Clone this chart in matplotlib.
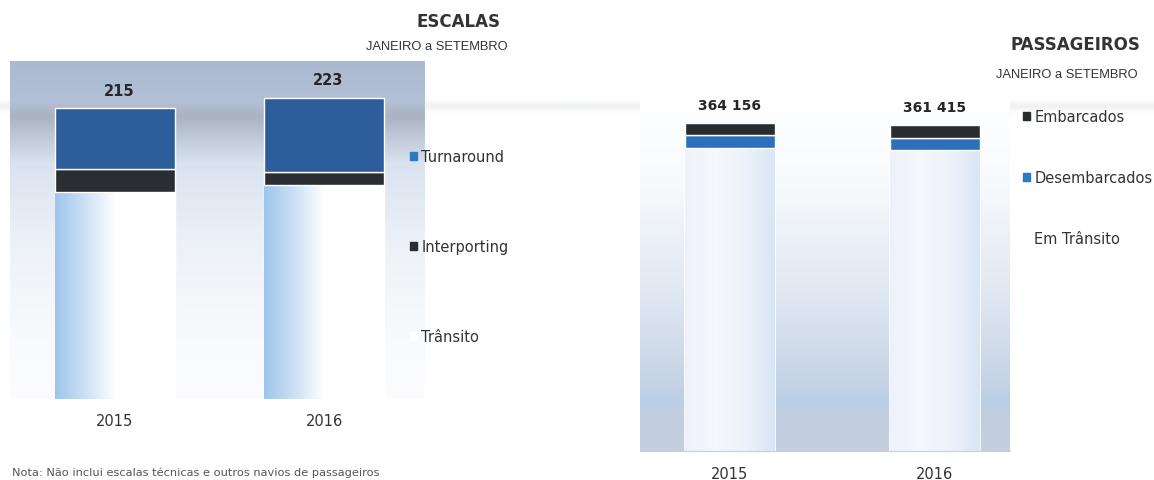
import numpy as np
import matplotlib.pyplot as plt
from matplotlib.colors import LinearSegmentedColormap

# dados - escalas (janeiro a setembro)
anos = ["2015", "2016"]
esc_transito = [153, 158]
esc_interporting = [17, 10]
esc_turnaround = [45, 55]
esc_total = [215, 223]

# dados - passageiros
pax_transito = [336400, 333650]
pax_desembarcados = [14400, 13300]
pax_embarcados = [13356, 14465]
pax_total = ["364 156", "361 415"]

fig = plt.figure(figsize=(11.54, 4.81), dpi=100)
W, H = 1154.0, 481.0


def px_axes(x0, y0, x1, y1):
    # caixa em pixeis (origem em cima) -> fraccoes da figura
    return fig.add_axes([x0 / W, 1 - y1 / H, (x1 - x0) / W, (y1 - y0) / H])


def fundo(ax, stops):
    cmap = LinearSegmentedColormap.from_list("f", stops)
    grad = np.linspace(0, 1, 256).reshape(-1, 1)
    ax.imshow(grad, cmap=cmap, aspect="auto", extent=[0, 1, 0, 1],
              transform=ax.transAxes, zorder=0, origin="upper")


def gradiente_barras(ax, patches, stops):
    cmap = LinearSegmentedColormap.from_list("g", stops)
    grad = np.linspace(0, 1, 256).reshape(1, -1)
    for p in patches:
        x, y = p.get_x(), p.get_y()
        w, h = p.get_width(), p.get_height()
        im = ax.imshow(grad, cmap=cmap, aspect="auto",
                       extent=[x, x + w, y, y + h], zorder=1.5)
        im.set_clip_path(p)


# faixa cinzenta do scan
band = fig.add_axes([0, 1 - 118 / H, 1, 22 / H])
band.axis("off")
band.imshow(np.array([[0.0], [1.0], [0.0]]), aspect="auto", extent=[0, 1, 0, 1],
            cmap=LinearSegmentedColormap.from_list("b", [(1, 1, 1, 0), (0.72, 0.74, 0.78, 0.45)]),
            transform=band.transAxes, interpolation="bicubic")

# ---------------- ESCALAS ----------------
ax1 = px_axes(10, 62, 425, 400)
x = np.arange(len(anos))
bw = 0.574
fundo(ax1, [(0.0, (0.67, 0.73, 0.82)), (0.12, (0.70, 0.75, 0.84)),
            (0.16, (0.67, 0.70, 0.76)), (0.30, (0.85, 0.89, 0.94)),
            (0.55, (0.93, 0.95, 0.97)), (0.8, (0.97, 0.98, 0.99)),
            (1.0, (0.99, 0.99, 1.0))])
b_tr = ax1.bar(x, esc_transito, bw, color="white", edgecolor="white", lw=1, zorder=1,
               label="Trânsito")
gradiente_barras(ax1, b_tr, [(0.62, 0.77, 0.92), (0.80, 0.88, 0.96), (1, 1, 1), (1, 1, 1), (1, 1, 1)])
b_int = ax1.bar(x, esc_interporting, bw, bottom=esc_transito, color="#2a2d31",
                edgecolor="white", lw=1, zorder=2, label="Interporting")
base = np.array(esc_transito) + np.array(esc_interporting)
b_turn = ax1.bar(x, esc_turnaround, bw, bottom=base, color="#2e5d9c",
                 edgecolor="white", lw=1, zorder=2, label="Turnaround")
for xi, t in zip(x, esc_total):
    ax1.text(xi + 0.02, t + 8, str(t), ha="center", va="bottom", fontsize=10.5,
             fontweight="bold", color="#262626")
ax1.set_xlim(-0.502, 1.483)
ax1.set_ylim(0, 250)
ax1.set_yticks([])
ax1.set_xticks(x)
ax1.set_xticklabels(anos, fontsize=10.5, color="#333333")
ax1.tick_params(axis="x", length=0, pad=10)
for s in ax1.spines.values():
    s.set_visible(False)

h1 = [b_turn, b_int, b_tr]
leg1 = fig.legend(h1, ["Turnaround", "Interporting", "Trânsito"],
                  loc="upper left", bbox_to_anchor=(403 / W, 1 - 143 / H),
                  frameon=False, fontsize=10.5, labelspacing=5.15,
                  handlelength=0.45, handleheight=0.45, handletextpad=0.3,
                  borderpad=0, labelcolor="#333333")
for hnd, c in zip(leg1.legend_handles, ["#2e78c0", "#2a2d31", "white"]):
    hnd.set_facecolor(c)
    hnd.set_edgecolor(c)

fig.text(500 / W, 1 - 22 / H, "ESCALAS", ha="right", va="center", fontsize=12,
         fontweight="bold", color="#333333")
fig.text(508 / W, 1 - 47 / H, "JANEIRO a SETEMBRO", ha="right", va="center",
         fontsize=9.3, color="#333333", family="Liberation Sans")
fig.text(12 / W, 1 - 473 / H,
         "Nota: Não inclui escalas técnicas e outros navios de passageiros",
         ha="left", va="center", fontsize=8.2, color="#555555")

# ---------------- PASSAGEIROS ----------------
ax2 = px_axes(640, 95, 1010, 452)
bw2 = 0.439
fundo(ax2, [(0.0, (1, 1, 1)), (0.25, (0.97, 0.98, 0.99)),
            (0.55, (0.88, 0.91, 0.95)), (0.80, (0.78, 0.83, 0.90)),
            (0.86, (0.73, 0.81, 0.90)), (0.90, (0.76, 0.81, 0.88)),
            (1.0, (0.77, 0.81, 0.87))])
p_tr = ax2.bar(x, pax_transito, bw2, color="#f2f6fb", edgecolor="white", lw=1.2,
               zorder=1, label="Em Trânsito")
gradiente_barras(ax2, p_tr, [(0.93, 0.95, 0.98), (0.96, 0.97, 0.99), (0.93, 0.95, 0.98),
                             (0.85, 0.90, 0.96)])
p_des = ax2.bar(x, pax_desembarcados, bw2, bottom=pax_transito, color="#2c6fbd",
                edgecolor="white", lw=1, zorder=2, label="Desembarcados")
base2 = np.array(pax_transito) + np.array(pax_desembarcados)
p_emb = ax2.bar(x, pax_embarcados, bw2, bottom=base2, color="#2a2d30",
                edgecolor="white", lw=1, zorder=2, label="Embarcados")
tot2 = base2 + np.array(pax_embarcados)
for xi, t, lab in zip(x, tot2, pax_total):
    ax2.text(xi, t + 12000, lab, ha="center", va="bottom", fontsize=10,
             fontweight="bold", color="#262626")
ax2.set_xlim(-0.439, 1.366)
ax2.set_ylim(0, 396000)
ax2.set_yticks([])
ax2.set_xticks(x)
ax2.set_xticklabels(anos, fontsize=10.5, color="#333333")
ax2.tick_params(axis="x", length=0, pad=11)
for k, s in ax2.spines.items():
    s.set_visible(k == "bottom")
ax2.spines["bottom"].set_color("#c8cdd6")

h2 = [p_emb, p_des, p_tr]
leg2 = fig.legend(h2, ["Embarcados", "Desembarcados", "Em Trânsito"],
                  loc="upper left", bbox_to_anchor=(1016 / W, 1 - 103 / H),
                  frameon=False, fontsize=10.5, labelspacing=3.15,
                  handlelength=0.45, handleheight=0.45, handletextpad=0.3,
                  borderpad=0, labelcolor="#333333")
for hnd, c in zip(leg2.legend_handles, ["#2a2d30", "#2c79c8", "white"]):
    hnd.set_facecolor(c)
    hnd.set_edgecolor(c)

fig.text(1140 / W, 1 - 45 / H, "PASSAGEIROS", ha="right", va="center", fontsize=12,
         fontweight="bold", color="#333333")
fig.text(1138 / W, 1 - 75 / H, "JANEIRO a SETEMBRO", ha="right", va="center",
         fontsize=9.3, color="#333333", family="Liberation Sans")

fig.savefig("out.png", dpi=100)
